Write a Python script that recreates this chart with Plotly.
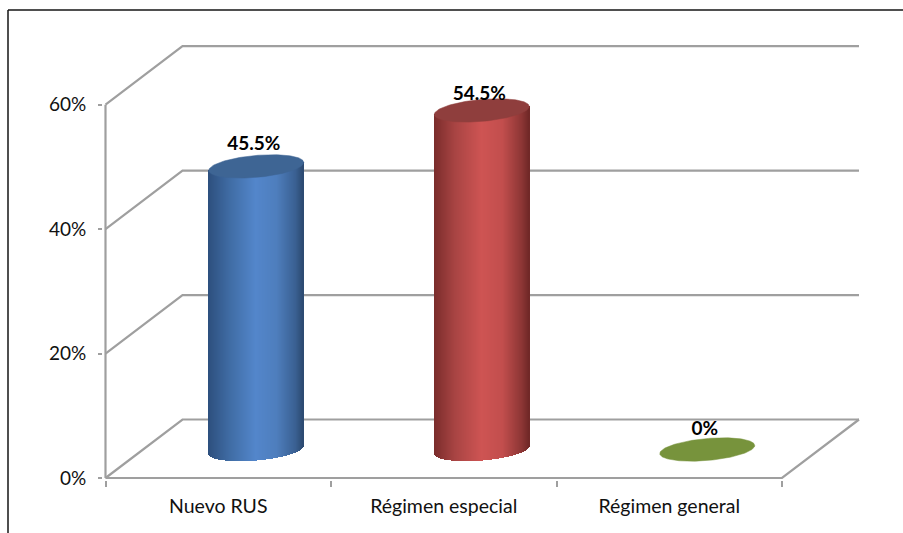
import numpy as np
import plotly.graph_objects as go

# Chart data
categories = ["Nuevo RUS", "Régimen especial", "Régimen general"]
shares = [45.5, 54.5, 0]
share_labels = ["45.5%", "54.5%", "0%"]
y_ticks = [0, 20, 40, 60]
y_tick_labels = ["0%", "20%", "40%", "60%"]

# Body shading from left edge to right edge, and the cap colour
body_stops = [
    [(0.0, "#2d4f7d"), (0.22, "#3f6ba3"), (0.5, "#5386cb"), (0.72, "#4e7ebd"), (0.92, "#3a6092"), (1.0, "#2c4a70")],
    [(0.0, "#7a2c2b"), (0.22, "#a84443"), (0.5, "#ce5453"), (0.72, "#c24e4d"), (0.92, "#8d3635"), (1.0, "#6f2726")],
    [(0.0, "#77933c"), (1.0, "#77933c")],
]
cap_colors = ["#3e6594", "#8f3e3d", "#77933c"]

# Pixel scale of the pseudo-3D scene
W, H = 903, 533
PX_PER_CAT = 225.5
PX_PER_PCT = 373.3 / 60
ORIGIN_X, ORIGIN_Y = 105.5, 478
RIGHT_EDGE, TOP_EDGE = 862, 44
PAD_X, PAD_Y = 2.5, 2
PLOT_LEFT, PLOT_BOTTOM = ORIGIN_X - PAD_X, ORIGIN_Y + PAD_Y
DEPTH_X = 77 / PX_PER_CAT          # wall depth along x, in category units
DEPTH_Y = 58.5 / PX_PER_PCT        # wall depth along y, in percent units
CYL_OFFSET = 38 / PX_PER_CAT       # cylinder centre relative to category centre
CYL_FLOOR = 28.5 / PX_PER_PCT      # cylinder base above the front edge
CYL_A, CYL_B, CYL_TILT = 47.5, 11, 4   # ellipse half width, half height, skew (px)
LABEL_LIFT = [21, 15, 19]          # label height above each cap, px
GRID = "#9f9f9f"
FONT = "Lato, Carlito, sans-serif"

x_lo = -0.5
x_hi = 2.5
x_range = [x_lo - PAD_X / PX_PER_CAT, x_lo + (RIGHT_EDGE - ORIGIN_X) / PX_PER_CAT]
y_range = [-PAD_Y / PX_PER_PCT, (ORIGIN_Y - TOP_EDGE) / PX_PER_PCT]

fig = go.Figure()


def shade(stops, u):
    """Interpolate a colour along a list of (position, hex) stops."""
    pos = [s[0] for s in stops]
    rgb = np.array([[int(s[1][i:i + 2], 16) for i in (1, 3, 5)] for s in stops], float)
    return "rgb({:.0f},{:.0f},{:.0f})".format(*[np.interp(u, pos, rgb[:, k]) for k in range(3)])


def paper_x(px):
    return (px - PLOT_LEFT) / (RIGHT_EDGE - PLOT_LEFT)


def paper_y(px):
    return (PLOT_BOTTOM - px) / (PLOT_BOTTOM - TOP_EDGE)


# Side walls and back wall grid, plus the floor's front and right edges
wall_paths = []
for v in y_ticks:
    wall_paths.append(
        f"M{x_lo},{v} L{x_lo + DEPTH_X},{v + DEPTH_Y} L{x_hi + DEPTH_X},{v + DEPTH_Y}"
    )
wall_paths.append(f"M{x_lo},0 L{x_hi},0 L{x_hi + DEPTH_X},{DEPTH_Y}")
wall_paths.append(f"M{x_lo},0 L{x_lo},{y_ticks[-1]}")
shapes = [
    dict(type="path", path=p, xref="x", yref="y", layer="below",
         line=dict(color=GRID, width=2.2)) for p in wall_paths
]

# Page frame: top and left rules
shapes.append(dict(type="line", xref="paper", yref="paper", layer="below",
                   x0=paper_x(8), x1=paper_x(W), y0=paper_y(10), y1=paper_y(10),
                   line=dict(color="#151515", width=1.5)))
shapes.append(dict(type="line", xref="paper", yref="paper", layer="below",
                   x0=paper_x(8), x1=paper_x(8), y0=paper_y(10), y1=paper_y(H),
                   line=dict(color="#151515", width=1.5)))

# Cylinders: one thin bar per pixel column for the shading, then a filled cap
for i, value in enumerate(shares):
    cx = i + CYL_OFFSET
    cols = np.arange(-CYL_A + 0.5, CYL_A, 1.0)
    u = cols / CYL_A
    lower = CYL_FLOOR + (CYL_TILT * u - CYL_B * np.sqrt(1 - u ** 2)) / PX_PER_PCT
    upper = CYL_FLOOR + value + CYL_TILT * u / PX_PER_PCT
    if value > 0:
        fig.add_trace(go.Bar(
            x=cx + cols / PX_PER_CAT,
            y=upper - lower,
            base=lower,
            width=1.2 / PX_PER_CAT,
            marker=dict(color=[shade(body_stops[i], (c + 1) / 2) for c in u], line=dict(width=0)),
            hoverinfo="skip",
            showlegend=False,
        ))
    t = np.linspace(0, 2 * np.pi, 160)
    fig.add_trace(go.Scatter(
        x=cx + CYL_A * np.cos(t) / PX_PER_CAT,
        y=CYL_FLOOR + value + (CYL_TILT * np.cos(t) + CYL_B * np.sin(t)) / PX_PER_PCT,
        mode="lines",
        fill="toself",
        fillcolor=cap_colors[i],
        line=dict(color=cap_colors[i], width=0.5),
        hoverinfo="skip",
        showlegend=False,
    ))

# Value labels above each cap
fig.add_trace(go.Scatter(
    x=[i + CYL_OFFSET - 2.5 / PX_PER_CAT for i in range(len(shares))],
    y=[CYL_FLOOR + v + lift / PX_PER_PCT for v, lift in zip(shares, LABEL_LIFT)],
    mode="text",
    text=share_labels,
    textposition="middle center",
    textfont=dict(family=FONT, size=19, color="#000000", weight="bold"),
    hoverinfo="skip",
    showlegend=False,
    cliponaxis=False,
))

fig.update_layout(
    width=W,
    height=H,
    autosize=False,
    margin=dict(l=PLOT_LEFT, r=W - RIGHT_EDGE, t=TOP_EDGE, b=H - PLOT_BOTTOM, pad=0),
    paper_bgcolor="#ffffff",
    plot_bgcolor="rgba(0,0,0,0)",
    barmode="overlay",
    bargap=0,
    showlegend=False,
    hovermode=False,
    font=dict(family=FONT, size=19.5, color="#111111"),
    shapes=shapes,
    xaxis=dict(
        range=x_range,
        tickmode="array",
        tickvals=[0, 1, 2],
        ticktext=categories,
        ticks="",
        showgrid=False,
        zeroline=False,
        showline=False,
        ticklabelstandoff=12,
        minor=dict(tickmode="array", tickvals=[-0.5, 0.5, 1.5, 2.5], ticks="outside",
                   ticklen=6, tickwidth=2, tickcolor=GRID, showgrid=False),
        fixedrange=True,
    ),
    yaxis=dict(
        range=y_range,
        tickmode="array",
        tickvals=y_ticks,
        ticktext=y_tick_labels,
        ticks="outside",
        ticklen=4,
        tickwidth=2,
        tickcolor=GRID,
        showgrid=False,
        zeroline=False,
        showline=False,
        ticklabelstandoff=8,
        tickfont=dict(size=19),
        fixedrange=True,
    ),
)

fig.write_html("out.html", config=dict(displayModeBar=False))
